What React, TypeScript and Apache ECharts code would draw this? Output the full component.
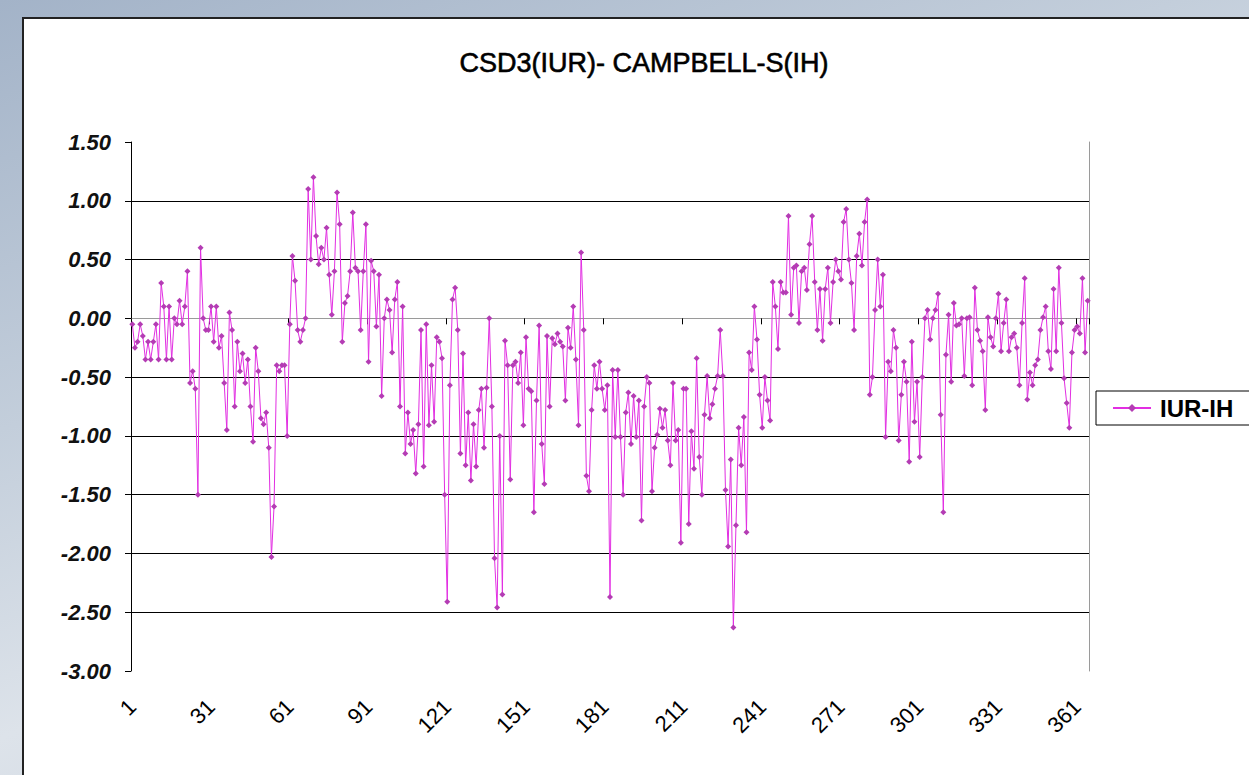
import React, { useEffect, useRef } from "react";
import * as echarts from "echarts";

const TITLE = "CSD3(IUR)- CAMPBELL-S(IH)";
const SERIES_NAME = "IUR-IH";
const Y_MIN = -3;
const Y_MAX = 1.5;
const Y_STEP = 0.5;
const LABEL_EVERY = 30;

// daily values in consecutive segments
const seg1 = [
  -0.05, -0.25, -0.2, -0.05, -0.15, -0.35, -0.2, -0.35, -0.2, -0.05,
  -0.35, 0.3, 0.1, -0.35, 0.1, -0.35, 0.0, -0.05, 0.15, -0.05,
  0.1, 0.4, -0.55, -0.45, -0.6, -1.5, 0.6, 0.0, -0.1, -0.1,
];
const seg2 = [
  0.1, -0.2, 0.1, -0.25, -0.15, -0.55, -0.95, 0.05, -0.1, -0.75,
  -0.2, -0.45, -0.3, -0.55, -0.35, -0.75, -1.05, -0.25, -0.45, -0.85,
  -0.9, -0.8, -1.1, -2.03, -1.6, -0.4, -0.45, -0.4, -0.4, -1.0,
];
const seg3 = [
  -0.05, 0.53, 0.32, -0.1, -0.2, -0.1, 0.0, 1.1, 0.5, 1.2,
  0.7, 0.46, 0.6, 0.5, 0.77, 0.37, 0.03, 0.4, 1.07, 0.8,
  -0.2, 0.13, 0.19, 0.4, 0.9, 0.43, 0.4, -0.1, 0.4, 0.8,
];
const seg4 = [
  -0.37, 0.49, 0.4, -0.07, 0.37, -0.66, 0.0, 0.16, 0.07, -0.29,
  0.16, 0.31, -0.75, 0.1, -1.15, -0.8, -1.07, -0.95, -1.32, -0.9,
  -0.1, -1.26, -0.05, -0.91, -0.4, -0.88, -0.16, -0.2, -0.34, -1.5,
  -2.41, -0.57, 0.16, 0.26, -0.1, -1.15, -0.3, -1.25, -0.8, -1.38,
  -0.9, -1.26, -0.78, -0.6, -1.1,
];
const seg5 = [
  -0.59, 0.0, -0.75, -2.04, -2.46, -1.0, -2.35, -0.19, -0.4, -1.37,
  -0.4, -0.37, -0.55, -0.29, -0.91, -0.16, -0.6, -0.62, -1.65, -0.7,
  -0.06, -1.07, -1.41, -0.15, -0.75, -0.17, -0.22, -0.13, -0.2, -0.24,
  -0.7, -0.08, -0.25, 0.1, -0.35, -0.91, 0.56, -0.1, -1.34, -1.47,
  -0.78, -0.4, -0.6,
];
const seg6 = [
  -0.37, -0.6, -0.78, -0.57, -2.37, -0.44, -1.01, -0.44, -1.01, -1.5,
  -0.8, -0.63, -1.07, -0.66, -1.01, -0.7, -1.72, -0.75, -0.5, -0.55,
  -1.47, -1.1, -0.99, -0.77, -0.93, -0.78, -1.04, -1.25, -0.55, -1.04,
  -0.95, -1.91, -0.6, -0.6, -1.75, -0.96, -1.28, -0.34, -1.18, -1.5,
  -0.82, -0.49, -0.85, -0.73, -0.6, -0.49, -0.1, -0.49, -1.46, -1.94,
];
const seg7 = [
  -1.2, -2.63, -1.76, -0.93, -1.25, -0.84, -1.82, -0.29, -0.44, 0.1,
  -0.18, -0.65, -0.93, -0.5, -0.7, -0.87, 0.31, 0.1, -0.26, 0.31,
  0.22, 0.22, 0.87, 0.03, 0.43, 0.45, -0.04, 0.4, 0.43, 0.24,
  0.63, 0.87, 0.31, -0.1, 0.25, -0.19, 0.25, 0.43, -0.04, 0.31,
  0.5, 0.4, 0.33, 0.82, 0.93,
];
const seg8 = [
  0.5, 0.3, -0.1, 0.53, 0.72, 0.45, 0.82, 1.01, -0.65, -0.5,
  0.07, 0.5, 0.1, 0.37, -1.01, -0.37, -0.45, -0.1, -0.25, -1.04,
  -0.65, -0.37, -0.54, -1.22, -0.2, -0.88, -0.54, -1.18, -0.5, 0.0,
  0.07, -0.18, 0.0, 0.07, 0.21, -0.82, -1.65, -0.31, 0.03, -0.54,
  0.13, -0.06, -0.05, 0.0, -0.49, 0.0, 0.01, -0.57,
];
const seg9 = [
  0.26, -0.1, -0.19, -0.28, -0.78, 0.01, -0.16, -0.24, 0.0, 0.21,
  -0.28, -0.04, 0.16, -0.28, -0.16, -0.13, -0.25, -0.57, -0.04, 0.34,
  -0.69, -0.46, -0.57, -0.4, -0.35, -0.1, 0.01, 0.1, -0.28, -0.43,
  0.25, -0.28, 0.43, -0.04, -0.51, -0.72, -0.93, -0.29, -0.1, -0.07,
  -0.13, 0.34, -0.29, 0.15,
];

const values = [...seg1, ...seg2, ...seg3, ...seg4, ...seg5, ...seg6, ...seg7, ...seg8, ...seg9];
const days = values.map((_, i) => String(i + 1));

const FONT = "'Liberation Sans', Arial, sans-serif";

export default function App() {
  const ref = useRef<HTMLDivElement>(null);

  useEffect(() => {
    if (!ref.current) return;
    const chart = echarts.init(ref.current, null, { renderer: "svg" });
    chart.setOption({
      animation: false,
      backgroundColor: "transparent",
      title: {
        text: TITLE,
        left: 639,
        top: 44,
        textAlign: "center",
        textStyle: {
          fontFamily: FONT,
          fontSize: 27,
          fontWeight: "normal",
          color: "#000",
          textBorderColor: "#000",
          textBorderWidth: 0.6,
        },
      },
      legend: {
        data: [SERIES_NAME],
        left: 1096,
        top: 391,
        padding: [5, 40, 5, 16],
        borderColor: "#000",
        borderWidth: 1,
        backgroundColor: "#fff",
        itemWidth: 38,
        itemHeight: 10,
        textStyle: {
          fontFamily: FONT,
          fontSize: 24,
          fontWeight: "bold",
          color: "#000",
          padding: [0, 0, 0, 4],
        },
      },
      grid: { left: 131, top: 142, width: 958, height: 529, containLabel: false },
      xAxis: [
        {
          type: "category",
          data: days,
          boundaryGap: true,
          axisLine: { lineStyle: { color: "#000", width: 1 } },
          axisTick: { show: true, interval: LABEL_EVERY - 1, length: 6, lineStyle: { color: "#000" } },
          axisLabel: {
            interval: LABEL_EVERY - 1,
            rotate: 45,
            margin: 32,
            fontFamily: FONT,
            fontSize: 22,
            color: "#000",
          },
          splitLine: { show: false },
        },
        {
          type: "category",
          data: days,
          position: "top",
          axisLine: { show: true, lineStyle: { color: "#9a9a9a", width: 1 } },
          axisTick: { show: false },
          axisLabel: { show: false },
          splitLine: { show: false },
        },
      ],
      yAxis: [
        {
          type: "value",
          min: Y_MIN,
          max: Y_MAX,
          interval: Y_STEP,
          axisLine: { show: true, lineStyle: { color: "#000", width: 1 } },
          axisTick: { show: true, length: 6, lineStyle: { color: "#000" } },
          axisLabel: {
            formatter: (v: number) => v.toFixed(2),
            margin: 20,
            fontFamily: FONT,
            fontSize: 22,
            fontStyle: "italic",
            fontWeight: "bold",
            color: "#111",
          },
          splitLine: {
            show: true,
            showMaxLine: false,
            showMinLine: false,
            lineStyle: { color: "#000", width: 1 },
          },
        },
        {
          type: "value",
          min: Y_MIN,
          max: Y_MAX,
          interval: Y_STEP,
          position: "right",
          axisLine: { show: true, lineStyle: { color: "#9a9a9a", width: 1 } },
          axisTick: { show: false },
          axisLabel: { show: false },
          splitLine: { show: false },
        },
      ],
      series: [
        {
          type: "line",
          name: SERIES_NAME,
          data: values,
          symbol: "diamond",
          symbolSize: 6,
          showAllSymbol: true,
          lineStyle: { color: "#e22ee2", width: 1 },
          itemStyle: { color: "#b43cb4" },
        },
      ],
    });
    return () => chart.dispose();
  }, []);

  return (
    <div
      style={{
        position: "fixed",
        left: 0,
        top: 0,
        width: 1249,
        height: 775,
        overflow: "hidden",
        background:
          "linear-gradient(160deg, #a3b3c8 0%, #c3cedb 35%, #dde3ea 60%, #c0cad8 100%)",
      }}
    >
      <div
        style={{
          position: "absolute",
          left: 22,
          top: 17,
          width: 1300,
          height: 800,
          background: "#fff",
          borderLeft: "2px solid #222",
          borderTop: "2px solid #222",
        }}
      />
      <div ref={ref} style={{ position: "absolute", left: 0, top: 0, width: 1249, height: 775 }} />
    </div>
  );
}
